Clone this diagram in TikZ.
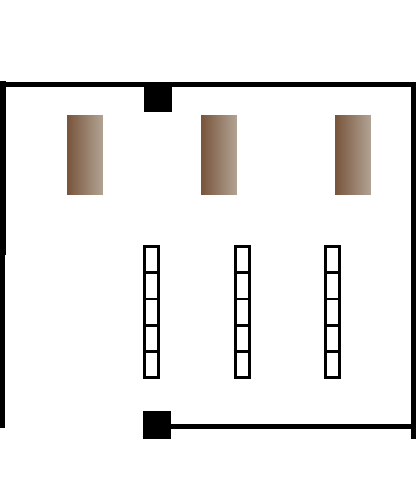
\documentclass[tikz,border=0pt]{standalone}
\usepackage{tikz}
\usetikzlibrary{calc}
\definecolor{pillardark}{RGB}{120,85,60}
\definecolor{pillarlight}{RGB}{178,163,148}
\begin{document}
\begin{tikzpicture}[x=1pt,y=-1pt,node distance=26.3pt,semithick,
	wall/.style={line width=5pt},
	block/.style={rectangle,fill=black,inner sep=0pt,minimum width=28pt,minimum height=28pt},
	pillar/.style={rectangle,inner sep=0pt,minimum width=35.6pt,minimum height=79.4pt,left color=pillardark,right color=pillarlight},
	cell/.style={rectangle,draw=black,line width=2.7pt,inner sep=0pt,minimum width=14.3pt,minimum height=26.3pt}]
		\useasboundingbox (0,0) rectangle (416,492);
		% walls
		\coordinate (NW)  at (0,84.5);
		\coordinate (NE)  at (413.5,84.5);
		\coordinate (SE)  at (413.5,439);
		\coordinate (SEi) at (413.5,426.5);
		\coordinate (LT)  at (3,81);
		\coordinate (LM)  at (3,255);
		\coordinate (LMb) at (2.5,255);
		\coordinate (LB)  at (2.5,428);
		\node[block] (Bt) at (158,98)  {};
		\node[block] (Bb) at (157,425) {};
		\draw[wall] (NW) -- (NE);
		\draw[wall] (NE |- 0,82) -- (SE);
		\draw[wall] (Bb |- SEi) -- (SEi);
		\draw[wall,line width=6pt] (LT) -- (LM);
		\draw[wall] (LMb) -- (LB);
		% pillars
		\node[pillar] (P1) at (85,155)  {};
		\node[pillar] (P2) at (219,155) {};
		\node[pillar] (P3) at (353,155) {};
		% racks
		\node[cell] (A1) at (151.5,259.4) {};
		\node[cell] (A2) [below of=A1] {};
		\node[cell] (A3) [below of=A2] {};
		\node[cell] (A4) [below of=A3] {};
		\node[cell] (A5) [below of=A4] {};
		\node[cell] (C1) at (242.5,259.4) {};
		\node[cell] (C2) [below of=C1] {};
		\node[cell] (C3) [below of=C2] {};
		\node[cell] (C4) [below of=C3] {};
		\node[cell] (C5) [below of=C4] {};
		\node[cell] (D1) at (332.5,259.4) {};
		\node[cell] (D2) [below of=D1] {};
		\node[cell] (D3) [below of=D2] {};
		\node[cell] (D4) [below of=D3] {};
		\node[cell] (D5) [below of=D4] {};
\end{tikzpicture}
\end{document}
